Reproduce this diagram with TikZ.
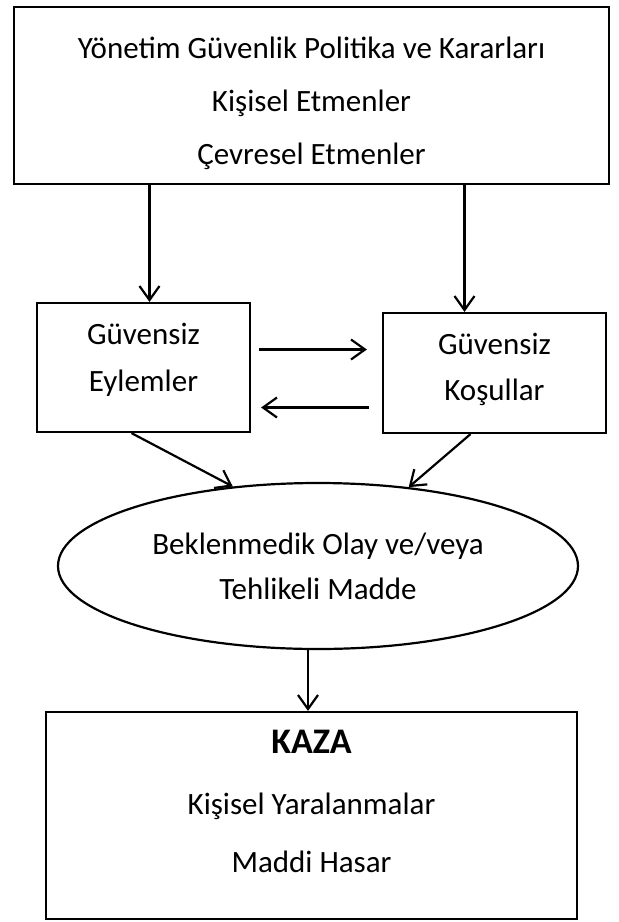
\documentclass[tikz,border=0pt]{standalone}
\usepackage{fontspec}
\setmainfont{Carlito}
\usetikzlibrary{arrows.meta, positioning, shapes.geometric}

\begin{document}
\begin{tikzpicture}[
        x=0.5pt, y=-0.5pt,
        box/.style={draw, line width=1.1pt, inner sep=0pt},
        txt/.style={inner sep=0pt, align=center, font=\fontsize{15.5}{26.5}\selectfont},
        oval/.style={draw, ellipse, line width=1.1pt, inner sep=0pt, align=center, font=\fontsize{15.5}{22.5}\selectfont},
        arr/.style={-{Straight Barb[length=7pt, width=10pt]}, line width=1.1pt}
    ]
        \useasboundingbox (0,0) rectangle (618,922);

        % Causes (top)
        \node[box, minimum width=297.5pt, minimum height=88.5pt] (causes) at (311.5,95.5) {};
        \node[txt] (causestext) at ([yshift=-3.75pt]causes.center) {Yönetim Güvenlik Politika ve Kararları\\Kişisel Etmenler\\Çevresel Etmenler};

        % Unsafe acts / conditions
        \node[box, minimum width=106.5pt, minimum height=64.5pt] (acts) at (143.5,367.5) {};
        \node[txt, font=\fontsize{15.5}{23.5}\selectfont] (actstext) at ([yshift=4pt]acts.center) {Güvensiz\\Eylemler};
        \node[box, minimum width=111.5pt, minimum height=60pt] (conds) at (494.5,373) {};
        \node[txt, font=\fontsize{15.5}{23}\selectfont] (condstext) at ([yshift=2pt]conds.center) {Güvensiz\\Koşullar};

        % Incident
        \node[oval, minimum width=260pt, minimum height=83pt] (event) at (318,566) {Beklenmedik Olay ve/veya\\Tehlikeli Madde};

        % Accident (bottom)
        \node[box, minimum width=265.5pt, minimum height=103.5pt] (kaza) at (311.5,815.5) {};
        \node[txt, font=\fontsize{15.5}{29}\selectfont] (kazatext) at ([yshift=7pt]kaza.center) {{\fontsize{18}{29}\selectfont\bfseries KAZA}\\[1.5pt]Kişisel Yaralanmalar\\Maddi Hasar};

        \draw[arr] ([xshift=3pt]acts.north |- causes.south) -- ([xshift=3pt]acts.north);
        \draw[arr] ([xshift=-15pt]conds.north |- causes.south) -- ([xshift=-15pt]conds.north);

        % Arrows between acts and conditions
        \draw[arr] ([xshift=4pt, yshift=9pt]acts.east) -- ([xshift=-7.5pt, yshift=9pt]acts.east -| conds.west);
        \draw[arr] ([xshift=-6.5pt, yshift=-20pt]acts.east -| conds.west) -- ([xshift=5pt, yshift=-20pt]acts.east);

        \draw[arr] ([xshift=-6pt]acts.south) -- (event.137);
        \draw[arr] ([xshift=-12pt]conds.south) -- (event.41);

        \draw[arr] ([xshift=-5pt]event.south) -- ([xshift=-5pt]event.south |- kaza.north);
    \end{tikzpicture}
\end{document}
